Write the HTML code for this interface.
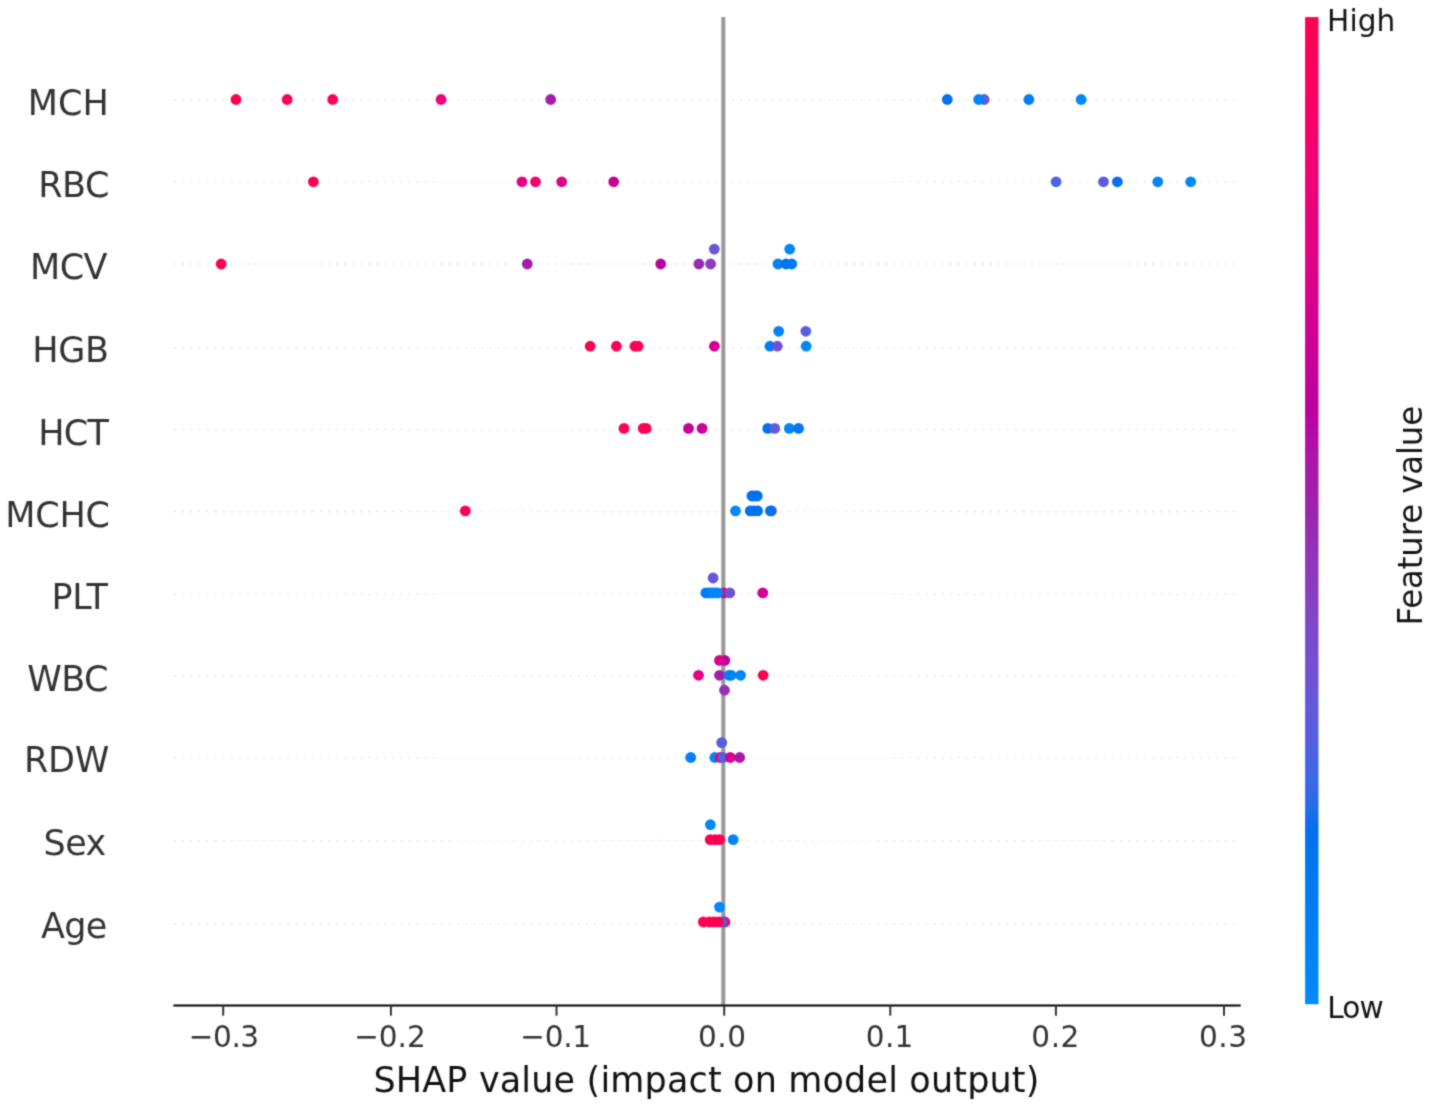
<!DOCTYPE html>
<html lang="en"><head><meta charset="utf-8"><title>SHAP summary plot</title>
<style>html,body{margin:0;padding:0;background:#fff}body{width:1429px;height:1108px;overflow:hidden}svg{display:block}text{font-family:'DejaVu Sans','Liberation Sans',sans-serif}</style></head><body>
<svg width="1429" height="1108" viewBox="0 0 1429 1108">
<rect width="1429" height="1108" fill="#fff"/>
<defs><linearGradient id="cb" x1="0" y1="0" x2="0" y2="1"><stop offset="0.000" stop-color="#ff0051"/><stop offset="0.025" stop-color="#ff0057"/><stop offset="0.050" stop-color="#fe005c"/><stop offset="0.075" stop-color="#fc0062"/><stop offset="0.100" stop-color="#f90067"/><stop offset="0.125" stop-color="#f5006d"/><stop offset="0.150" stop-color="#f20072"/><stop offset="0.175" stop-color="#ee0077"/><stop offset="0.200" stop-color="#e9007c"/><stop offset="0.225" stop-color="#e50081"/><stop offset="0.250" stop-color="#e00086"/><stop offset="0.275" stop-color="#db008b"/><stop offset="0.300" stop-color="#d5008f"/><stop offset="0.325" stop-color="#cf0094"/><stop offset="0.350" stop-color="#c90098"/><stop offset="0.375" stop-color="#c2009c"/><stop offset="0.400" stop-color="#bb00a0"/><stop offset="0.425" stop-color="#b40ca4"/><stop offset="0.450" stop-color="#ac16a7"/><stop offset="0.475" stop-color="#a41eaa"/><stop offset="0.500" stop-color="#9b24ad"/><stop offset="0.525" stop-color="#962db4"/><stop offset="0.550" stop-color="#9135ba"/><stop offset="0.575" stop-color="#8b3cc0"/><stop offset="0.600" stop-color="#8443c6"/><stop offset="0.625" stop-color="#7d49cc"/><stop offset="0.650" stop-color="#754fd1"/><stop offset="0.675" stop-color="#6d54d6"/><stop offset="0.700" stop-color="#635adb"/><stop offset="0.725" stop-color="#585edf"/><stop offset="0.750" stop-color="#4b63e3"/><stop offset="0.775" stop-color="#3b68e7"/><stop offset="0.800" stop-color="#246cea"/><stop offset="0.825" stop-color="#0070ee"/><stop offset="0.850" stop-color="#0075f0"/><stop offset="0.875" stop-color="#0079f3"/><stop offset="0.900" stop-color="#007cf5"/><stop offset="0.925" stop-color="#0080f7"/><stop offset="0.950" stop-color="#0084f9"/><stop offset="0.975" stop-color="#0087fa"/><stop offset="1.000" stop-color="#008bfb"/></linearGradient><filter id="bl" x="0" y="0" width="1429" height="1108" filterUnits="userSpaceOnUse" color-interpolation-filters="sRGB"><feConvolveMatrix order="3" kernelMatrix="0.0311 0.1141 0.0311 0.1141 0.4191 0.1141 0.0311 0.1141 0.0311" divisor="1" edgeMode="duplicate" preserveAlpha="true"/></filter></defs><g filter="url(#bl)">
<rect width="1429" height="1108" fill="#fff"/>
<g stroke="#e2e2e2" stroke-width="1.5" stroke-dasharray="1.5 6.58" fill="none">
<line x1="174.4" x2="1240.5" y1="100.20" y2="100.20"/>
<line x1="174.4" x2="1240.5" y1="182.20" y2="182.20"/>
<line x1="174.4" x2="1240.5" y1="264.10" y2="264.10"/>
<line x1="174.4" x2="1240.5" y1="348.10" y2="348.10"/>
<line x1="174.4" x2="1240.5" y1="429.65" y2="429.65"/>
<line x1="174.4" x2="1240.5" y1="511.70" y2="511.70"/>
<line x1="174.4" x2="1240.5" y1="593.70" y2="593.70"/>
<line x1="174.4" x2="1240.5" y1="676.10" y2="676.10"/>
<line x1="174.4" x2="1240.5" y1="758.30" y2="758.30"/>
<line x1="174.4" x2="1240.5" y1="840.40" y2="840.40"/>
<line x1="174.4" x2="1240.5" y1="923.80" y2="923.80"/>
</g>
<line x1="723.3" x2="723.3" y1="17.1" y2="1005.3" stroke="#999999" stroke-width="4.04"/>
<g>
<circle cx="236.0" cy="99.5" r="5.40" fill="#ff0051"/>
<circle cx="287.2" cy="99.5" r="5.40" fill="#ff0056"/>
<circle cx="332.7" cy="99.5" r="5.40" fill="#ff0058"/>
<circle cx="441.1" cy="99.5" r="5.40" fill="#ed0078"/>
<circle cx="550.7" cy="99.5" r="5.40" fill="#a21fab"/>
<circle cx="947.3" cy="99.5" r="5.40" fill="#0071ee"/>
<circle cx="984.2" cy="99.5" r="5.40" fill="#635adb"/>
<circle cx="978.7" cy="99.5" r="5.40" fill="#0082f8"/>
<circle cx="1028.9" cy="99.5" r="5.40" fill="#007ff7"/>
<circle cx="1081.2" cy="99.5" r="5.40" fill="#0088fa"/>
<circle cx="313.4" cy="181.8" r="5.40" fill="#ff0051"/>
<circle cx="522.0" cy="181.8" r="5.40" fill="#e20084"/>
<circle cx="535.5" cy="181.8" r="5.40" fill="#f6006b"/>
<circle cx="561.7" cy="181.8" r="5.40" fill="#de0088"/>
<circle cx="613.7" cy="181.8" r="5.40" fill="#c90098"/>
<circle cx="1056.1" cy="181.8" r="5.40" fill="#4b63e3"/>
<circle cx="1103.5" cy="181.8" r="5.40" fill="#5f5cdc"/>
<circle cx="1117.4" cy="181.8" r="5.40" fill="#0071ee"/>
<circle cx="1157.8" cy="181.8" r="5.40" fill="#0084f9"/>
<circle cx="1190.7" cy="181.8" r="5.40" fill="#0088fa"/>
<circle cx="221.2" cy="264.0" r="5.40" fill="#ff0051"/>
<circle cx="527.3" cy="264.0" r="5.40" fill="#a21fab"/>
<circle cx="660.7" cy="264.0" r="5.40" fill="#bb00a0"/>
<circle cx="698.9" cy="264.0" r="5.40" fill="#972bb2"/>
<circle cx="710.6" cy="264.0" r="5.40" fill="#8a3ec1"/>
<circle cx="714.3" cy="249.1" r="5.40" fill="#6757d9"/>
<circle cx="778.0" cy="264.0" r="5.40" fill="#0081f7"/>
<circle cx="786.1" cy="264.0" r="5.40" fill="#0071ee"/>
<circle cx="791.8" cy="264.0" r="5.40" fill="#0079f3"/>
<circle cx="789.7" cy="249.1" r="5.40" fill="#0086fa"/>
<circle cx="590.2" cy="346.2" r="5.40" fill="#ff0051"/>
<circle cx="616.4" cy="346.2" r="5.40" fill="#ff0058"/>
<circle cx="634.9" cy="346.2" r="5.40" fill="#ff0056"/>
<circle cx="638.2" cy="346.2" r="5.40" fill="#ff005a"/>
<circle cx="714.4" cy="346.2" r="5.40" fill="#d00093"/>
<circle cx="770.0" cy="346.2" r="5.40" fill="#007cf5"/>
<circle cx="777.3" cy="346.2" r="5.40" fill="#754fd1"/>
<circle cx="806.2" cy="346.2" r="5.40" fill="#0088fa"/>
<circle cx="778.7" cy="331.3" r="5.40" fill="#0081f7"/>
<circle cx="805.8" cy="331.3" r="5.40" fill="#5a5ede"/>
<circle cx="624.0" cy="428.4" r="5.40" fill="#ff0058"/>
<circle cx="643.2" cy="428.4" r="5.40" fill="#ff0056"/>
<circle cx="646.2" cy="428.4" r="5.40" fill="#ff005a"/>
<circle cx="688.5" cy="428.4" r="5.40" fill="#c6009a"/>
<circle cx="702.1" cy="428.4" r="5.40" fill="#ce0095"/>
<circle cx="767.8" cy="428.4" r="5.40" fill="#0071ee"/>
<circle cx="774.7" cy="428.4" r="5.40" fill="#5f5cdc"/>
<circle cx="789.3" cy="428.4" r="5.40" fill="#0086fa"/>
<circle cx="798.6" cy="428.4" r="5.40" fill="#0079f3"/>
<circle cx="465.3" cy="510.9" r="5.40" fill="#ff0051"/>
<circle cx="735.5" cy="510.9" r="5.40" fill="#0088fa"/>
<circle cx="750.3" cy="510.9" r="5.40" fill="#0070ed"/>
<circle cx="754.0" cy="510.9" r="5.40" fill="#0070ed"/>
<circle cx="757.6" cy="510.9" r="5.40" fill="#0070ed"/>
<circle cx="771.5" cy="510.9" r="5.40" fill="#754fd1"/>
<circle cx="770.4" cy="510.9" r="5.40" fill="#0073ef"/>
<circle cx="751.9" cy="496.0" r="5.40" fill="#0070ed"/>
<circle cx="754.6" cy="496.0" r="5.40" fill="#0070ed"/>
<circle cx="757.3" cy="496.0" r="5.40" fill="#0070ed"/>
<circle cx="724.0" cy="592.9" r="5.40" fill="#e00086"/>
<circle cx="705.9" cy="592.9" r="5.40" fill="#0079f3"/>
<circle cx="708.3" cy="592.9" r="5.40" fill="#007cf5"/>
<circle cx="710.7" cy="592.9" r="5.40" fill="#007ff7"/>
<circle cx="713.1" cy="592.9" r="5.40" fill="#0082f8"/>
<circle cx="715.5" cy="592.9" r="5.40" fill="#0085f9"/>
<circle cx="717.8" cy="592.9" r="5.40" fill="#0086fa"/>
<circle cx="713.1" cy="578.0" r="5.40" fill="#6b55d7"/>
<circle cx="729.8" cy="592.9" r="5.40" fill="#754fd1"/>
<circle cx="762.8" cy="592.9" r="5.40" fill="#d00093"/>
<circle cx="698.5" cy="675.3" r="5.40" fill="#e20084"/>
<circle cx="719.5" cy="675.3" r="5.40" fill="#a21fab"/>
<circle cx="740.6" cy="675.3" r="5.40" fill="#0086fa"/>
<circle cx="731.2" cy="675.3" r="5.40" fill="#0084f9"/>
<circle cx="729.0" cy="675.3" r="5.40" fill="#007ff7"/>
<circle cx="763.2" cy="675.3" r="5.40" fill="#ff0051"/>
<circle cx="724.8" cy="660.4" r="5.40" fill="#b509a3"/>
<circle cx="719.5" cy="660.4" r="5.40" fill="#d9008c"/>
<circle cx="724.5" cy="690.2" r="5.40" fill="#9332b8"/>
<circle cx="690.7" cy="757.5" r="5.40" fill="#0081f7"/>
<circle cx="714.8" cy="757.5" r="5.40" fill="#0086fa"/>
<circle cx="720.2" cy="757.5" r="5.40" fill="#e9007c"/>
<circle cx="723.1" cy="757.5" r="5.40" fill="#5061e2"/>
<circle cx="739.7" cy="757.5" r="5.40" fill="#a919a8"/>
<circle cx="730.3" cy="757.5" r="5.40" fill="#d5008f"/>
<circle cx="721.7" cy="742.6" r="5.40" fill="#555fe0"/>
<circle cx="710.2" cy="839.6" r="5.40" fill="#ff0051"/>
<circle cx="715.1" cy="839.6" r="5.40" fill="#ff0051"/>
<circle cx="719.7" cy="839.6" r="5.40" fill="#ff0051"/>
<circle cx="733.2" cy="839.6" r="5.40" fill="#0086fa"/>
<circle cx="710.4" cy="824.7" r="5.40" fill="#0086fa"/>
<circle cx="724.9" cy="922.0" r="5.40" fill="#ff0051"/>
<circle cx="721.9" cy="922.0" r="5.40" fill="#3769e8"/>
<circle cx="703.3" cy="922.0" r="5.40" fill="#ff0051"/>
<circle cx="709.5" cy="922.0" r="5.40" fill="#ff0051"/>
<circle cx="714.0" cy="922.0" r="5.40" fill="#ff0051"/>
<circle cx="718.6" cy="922.0" r="5.40" fill="#ff0051"/>
<circle cx="719.5" cy="907.1" r="5.40" fill="#0088fa"/>
</g>
<line x1="173.4" x2="1240.7" y1="1005.4" y2="1005.4" stroke="#000" stroke-width="1.95"/>
<g stroke="#333333" stroke-width="2.0">
<line x1="223.2" x2="223.2" y1="1005.3" y2="1015.7"/>
<line x1="390.9" x2="390.9" y1="1005.3" y2="1015.7"/>
<line x1="556.5" x2="556.5" y1="1005.3" y2="1015.7"/>
<line x1="724.2" x2="724.2" y1="1005.3" y2="1015.7"/>
<line x1="890.3" x2="890.3" y1="1005.3" y2="1015.7"/>
<line x1="1055.9" x2="1055.9" y1="1005.3" y2="1015.7"/>
<line x1="1224.0" x2="1224.0" y1="1005.3" y2="1015.7"/>
</g>
<text transform="translate(188.76,1047.20) scale(1,1.035)" font-size="29.6" fill="#333333" textLength="70.41" lengthAdjust="spacing">−0.3</text>
<text transform="translate(354.16,1047.20) scale(1,1.035)" font-size="29.6" fill="#333333" textLength="71.60" lengthAdjust="spacing">−0.2</text>
<text transform="translate(520.26,1047.20) scale(1,1.035)" font-size="29.6" fill="#333333" textLength="70.87" lengthAdjust="spacing">−0.1</text>
<text transform="translate(698.05,1047.20) scale(1,1.035)" font-size="29.6" fill="#333333" textLength="47.92" lengthAdjust="spacing">0.0</text>
<text transform="translate(865.85,1047.20) scale(1,1.035)" font-size="29.6" fill="#333333" textLength="47.58" lengthAdjust="spacing">0.1</text>
<text transform="translate(1031.35,1047.20) scale(1,1.035)" font-size="29.6" fill="#333333" textLength="48.01" lengthAdjust="spacing">0.2</text>
<text transform="translate(1199.05,1047.20) scale(1,1.035)" font-size="29.6" fill="#333333" textLength="48.02" lengthAdjust="spacing">0.3</text>
<text x="373.39" y="1092.30" font-size="35" fill="#111" textLength="666.01" lengthAdjust="spacing">SHAP value (impact on model output)</text>
<text x="27.86" y="115.20" font-size="35" fill="#333333" textLength="81.07" lengthAdjust="spacing">MCH</text>
<text x="38.16" y="196.50" font-size="35" fill="#333333" textLength="71.33" lengthAdjust="spacing">RBC</text>
<text x="30.06" y="278.70" font-size="35" fill="#333333" textLength="77.43" lengthAdjust="spacing">MCV</text>
<text x="32.26" y="362.20" font-size="35" fill="#333333" textLength="76.81" lengthAdjust="spacing">HGB</text>
<text x="38.16" y="444.90" font-size="35" fill="#333333" textLength="70.83" lengthAdjust="spacing">HCT</text>
<text x="5.26" y="526.50" font-size="35" fill="#333333" textLength="104.73" lengthAdjust="spacing">MCHC</text>
<text x="51.46" y="608.50" font-size="35" fill="#333333" textLength="56.53" lengthAdjust="spacing">PLT</text>
<text x="27.34" y="690.80" font-size="35" fill="#333333" textLength="81.16" lengthAdjust="spacing">WBC</text>
<text x="23.96" y="772.20" font-size="35" fill="#333333" textLength="85.28" lengthAdjust="spacing">RDW</text>
<text x="43.59" y="854.60" font-size="35" fill="#333333" textLength="62.75" lengthAdjust="spacing">Sex</text>
<text x="40.93" y="938.30" font-size="35" fill="#333333" textLength="66.44" lengthAdjust="spacing">Age</text>
<rect x="1305.1" y="17.1" width="13.4" height="987.1" fill="url(#cb)"/>
<text x="1327.09" y="30.60" font-size="29.6" fill="#141414" textLength="68.22" lengthAdjust="spacing">High</text>
<text x="1327.19" y="1017.60" font-size="29.6" fill="#141414" textLength="56.45" lengthAdjust="spacing">Low</text>
<text transform="translate(1422.0,625.47) rotate(-90) scale(1,1.045)" x="0" y="0" font-size="32.3" fill="#141414" textLength="219.59" lengthAdjust="spacing">Feature value</text>
</g></svg></body></html>
